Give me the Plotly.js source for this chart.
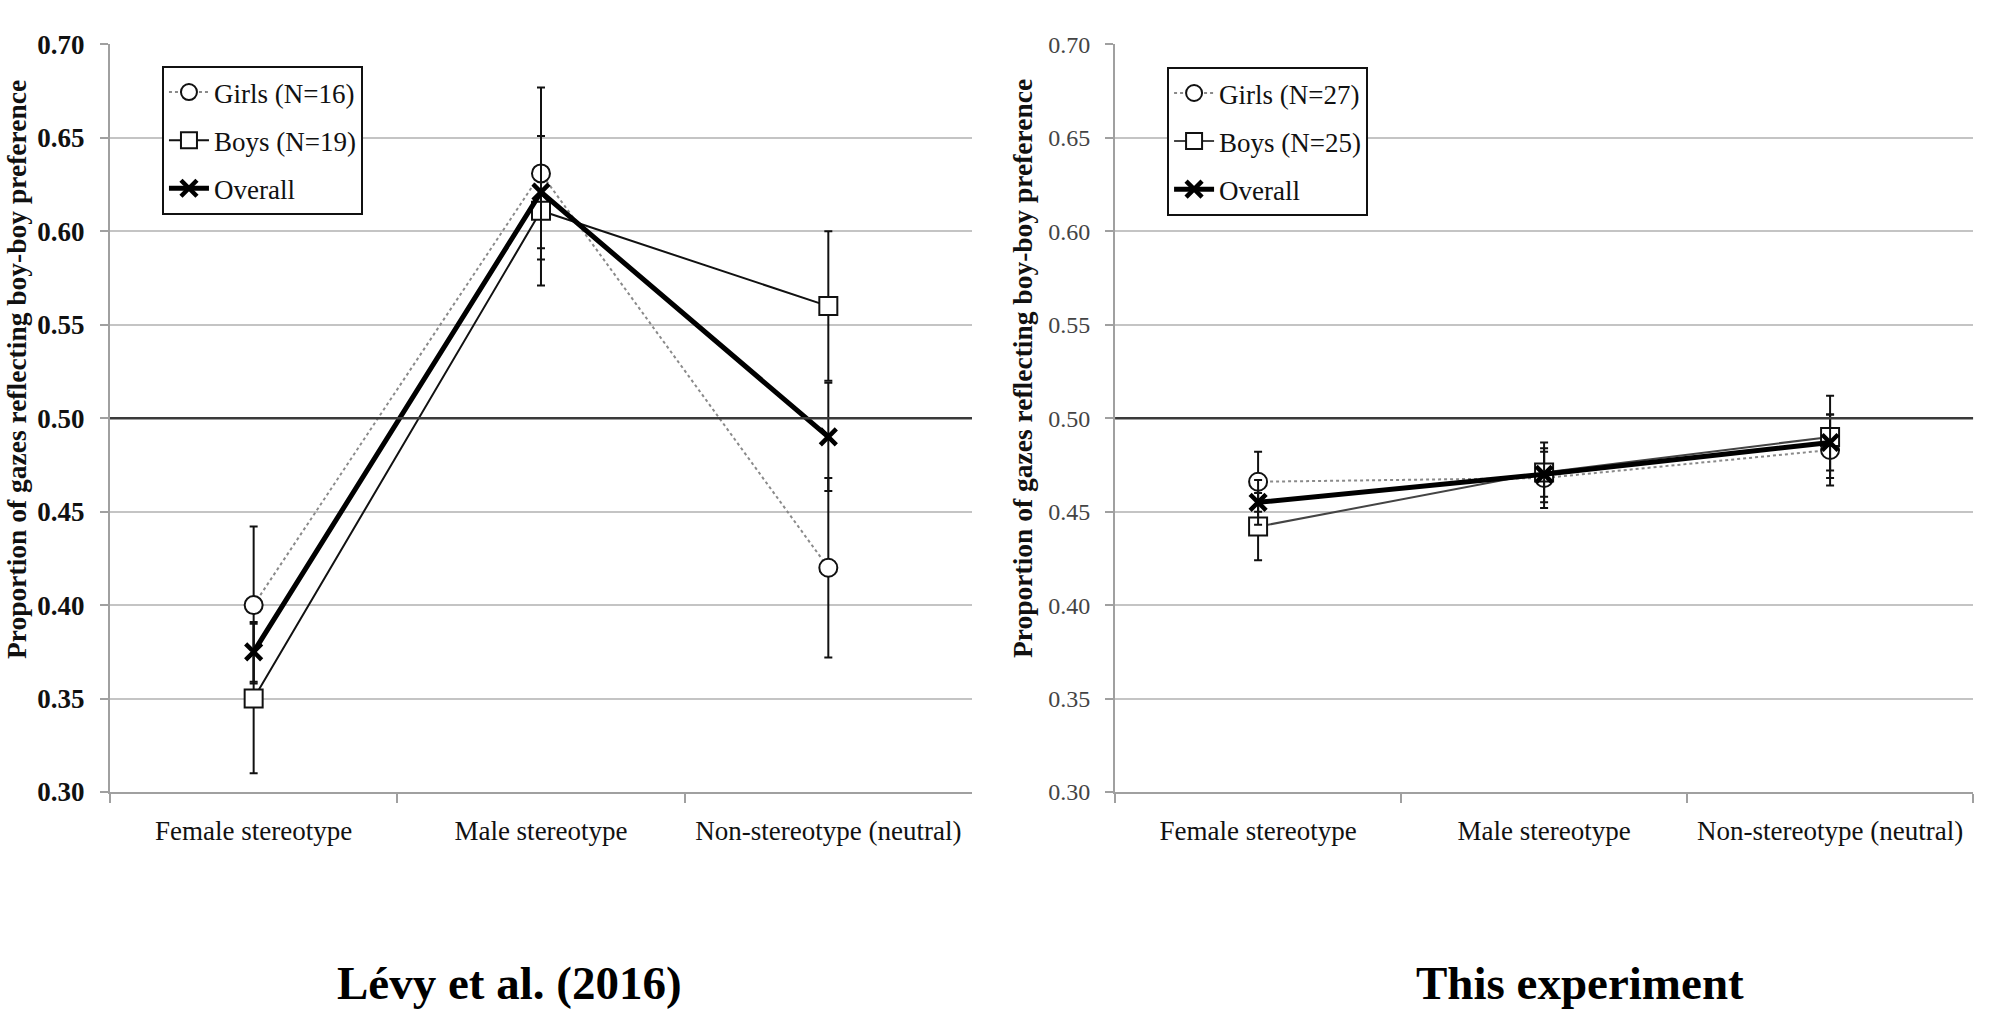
<!DOCTYPE html>
<html>
<head>
<meta charset="utf-8">
<script src="https://cdn.plot.ly/plotly-3.0.1.min.js"></script>
<style>
  body { margin: 0; background: #fff; }
  #myChart { width: 2007px; height: 1030px; }
</style>
</head>
<body>
<div id="myChart"></div>
<script>
// categories on both panels
const categories = ["Female stereotype", "Male stereotype", "Non-stereotype (neutral)"];
const yTicks = [0.30, 0.35, 0.40, 0.45, 0.50, 0.55, 0.60, 0.65, 0.70];
const yTickText = ["0.30", "0.35", "0.40", "0.45", "0.50", "0.55", "0.60", "0.65", "0.70"];
const chanceLevel = 0.5;

// Lévy et al. (2016)
const girlsLevy = [0.400, 0.631, 0.420];
const girlsLevyErr = [0.042, 0.046, 0.048];
const boysLevy = [0.350, 0.611, 0.560];
const boysLevyErr = [0.040, 0.040, 0.040];
const overallLevy = [0.375, 0.621, 0.490];
const overallLevyErr = [0.016, 0.030, 0.029];

// This experiment
const girlsExp = [0.466, 0.468, 0.483];
const girlsExpErr = [0.016, 0.016, 0.019];
const boysExp = [0.442, 0.471, 0.490];
const boysExpErr = [0.018, 0.016, 0.022];
const overallExp = [0.455, 0.470, 0.487];
const overallExpErr = [0.012, 0.012, 0.015];

const serif = "Liberation Serif, Times New Roman, serif";

function errBar(arr) {
  return { type: "data", array: arr, visible: true, color: "#111", thickness: 2, width: 4 };
}

function makeTraces(xa, ya, leg, girls, gErr, gName, boys, bErr, bName, overall, oErr, boysColor) {
  return [
    {
      x: categories, y: girls, xaxis: xa, yaxis: ya, legend: leg,
      name: gName, legendgroup: leg + "g", mode: "lines+markers", type: "scatter",
      line: { color: "#8a8a8a", width: 2, dash: "dot" },
      marker: { symbol: "circle", size: 18, color: "#fff", line: { color: "#111", width: 2 } },
      error_y: errBar(gErr)
    },
    {
      x: categories, y: boys, xaxis: xa, yaxis: ya, legend: leg,
      name: bName, legendgroup: leg + "b", mode: "lines+markers", type: "scatter",
      line: { color: boysColor, width: 2 },
      marker: { symbol: "square", size: 18, color: "#fff", line: { color: "#111", width: 2 } },
      error_y: errBar(bErr)
    },
    {
      x: categories, y: overall, xaxis: xa, yaxis: ya, legend: leg,
      name: "Overall", legendgroup: leg + "o", mode: "lines+markers", type: "scatter",
      line: { color: "#000", width: 5 },
      marker: { symbol: "x-thin", size: 16, color: "#000", line: { color: "#000", width: 4.5 } },
      error_y: errBar(oErr)
    }
  ];
}

const data = [].concat(
  makeTraces("x", "y", "legend", girlsLevy, girlsLevyErr, "Girls (N=16)",
    boysLevy, boysLevyErr, "Boys (N=19)", overallLevy, overallLevyErr, "#111"),
  makeTraces("x2", "y2", "legend2", girlsExp, girlsExpErr, "Girls (N=27)",
    boysExp, boysExpErr, "Boys (N=25)", overallExp, overallExpErr, "#444")
);

function xAxis(domain, anchor) {
  return {
    domain: domain, anchor: anchor, type: "category",
    range: [-0.5, 2.5],
    showline: true, linecolor: "#a0a0a0", linewidth: 2,
    ticks: "outside", tickson: "boundaries", ticklen: 9, tickcolor: "#a0a0a0", tickwidth: 1.5,
    showgrid: false, zeroline: false,
    ticklabelstandoff: 14,
    tickfont: { family: serif, size: 27, color: "#111" }
  };
}

function yAxis(anchor, fontSize, fontColor, weight) {
  return {
    domain: [0.2311, 0.9568], anchor: anchor,
    range: [0.30, 0.70],
    tickvals: yTicks, ticktext: yTickText,
    showline: true, linecolor: "#a0a0a0", linewidth: 2,
    ticks: "outside", ticklen: 8, tickcolor: "#a0a0a0", tickwidth: 2,
    showgrid: true, gridcolor: "#c4c4c4", gridwidth: 2,
    zeroline: false,
    ticklabelstandoff: 10,
    tickfont: { family: serif, size: fontSize, color: fontColor, weight: weight }
  };
}

const legendBase = {
  bgcolor: "#fff", bordercolor: "#111", borderwidth: 2,
  font: { family: serif, size: 27, color: "#111" },
  xanchor: "left", yanchor: "top",
  tracegroupgap: 10, itemwidth: 40
};

const yTitle = "Proportion of gazes reflecting boy-boy preference";

const layout = {
  width: 2007, height: 1030,
  margin: { l: 0, r: 0, t: 0, b: 0 },
  paper_bgcolor: "#fff", plot_bgcolor: "#fff",
  xaxis: xAxis([0.0548, 0.4843], "y"),
  yaxis: yAxis("x", 27, "#111", "bold"),
  xaxis2: xAxis([0.5556, 0.9831], "y2"),
  yaxis2: yAxis("x2", 24, "#444", "normal"),
  legend: Object.assign({}, legendBase, { x: 0.0807, y: 0.9359 }),
  legend2: Object.assign({}, legendBase, { x: 0.5815, y: 0.935 }),
  // chance level line, drawn over the grid
  shapes: [
    { type: "line", xref: "x domain", yref: "y", x0: 0, x1: 1, y0: chanceLevel, y1: chanceLevel,
      line: { color: "#3a3a3a", width: 2.5 }, layer: "above" },
    { type: "line", xref: "x2 domain", yref: "y2", x0: 0, x1: 1, y0: chanceLevel, y1: chanceLevel,
      line: { color: "#3a3a3a", width: 2.5 }, layer: "above" }
  ],
  annotations: [
    { text: yTitle, xref: "paper", yref: "paper", x: 0.0085, y: 0.6408, textangle: -90,
      xanchor: "center", yanchor: "middle",
      showarrow: false, font: { family: serif, size: 27.5, color: "#111", weight: "bold" } },
    { text: yTitle, xref: "paper", yref: "paper", x: 0.5092, y: 0.6427, textangle: -90,
      xanchor: "center", yanchor: "middle",
      showarrow: false, font: { family: serif, size: 27.5, color: "#111", weight: "bold" } },
    { text: "Lévy et al. (2016)", xref: "paper", yref: "paper", x: 0.2541, y: 0.0456,
      xanchor: "center", yanchor: "middle",
      showarrow: false, font: { family: serif, size: 47, color: "#000", weight: "bold" } },
    { text: "This experiment", xref: "paper", yref: "paper", x: 0.787, y: 0.0456,
      xanchor: "center", yanchor: "middle",
      showarrow: false, font: { family: serif, size: 47, color: "#000", weight: "bold" } }
  ],
  showlegend: true
};

const config = { responsive: false, displayModeBar: false };

Plotly.newPlot("myChart", data, layout, config);
</script>
</body>
</html>
